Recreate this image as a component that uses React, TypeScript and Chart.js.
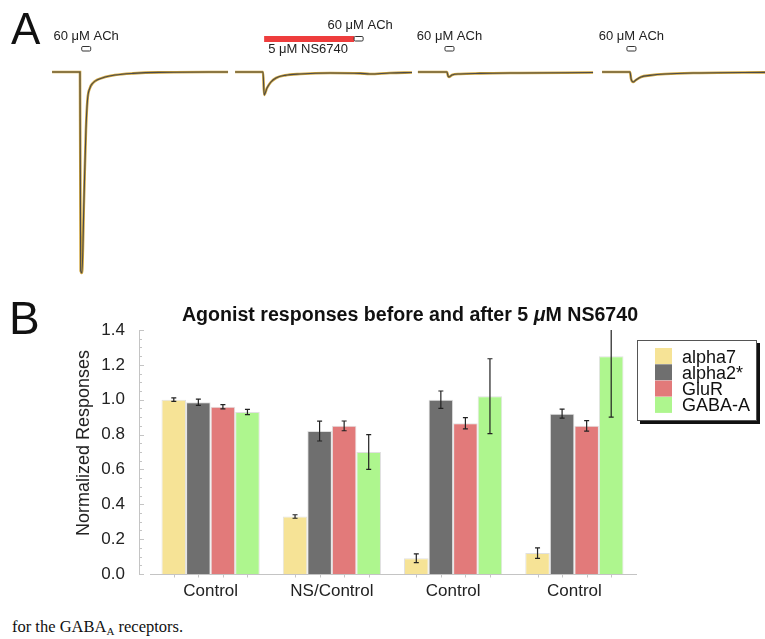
import React, { useEffect, useRef } from "react";
import { Chart, registerables } from "chart.js";

Chart.register(...registerables);

const SANS = "'Liberation Sans', Arial, Helvetica, sans-serif";

// ---------------- Panel A: current traces (normalized current vs. time, s) ----------------
const sweepOnsets = [0, 8.32, 16.68, 25.0];

const sweep1Time = [-1.27, 0, 0.03, 0.09, 0.18, 0.27, 0.34, 0.45, 0.59, 0.77, 1.14, 1.59, 2.41, 3.6, 6.73];
const sweep1Current = [0, 0, -0.99, -1.0, -0.64, -0.29, -0.14, -0.08, -0.055, -0.04, -0.025, -0.015, -0.007, -0.002, 0];

const sweep2Time = [-1.27, 0, 0.05, 0.18, 0.36, 0.59, 1.0, 1.68, 3.05, 4.41, 4.86, 5.77, 6.77];
const sweep2Current = [0, 0, -0.114, -0.08, -0.05, -0.03, -0.017, -0.01, -0.005, -0.007, -0.01, -0.005, -0.003];

const sweep3Time = [-1.32, 0, 0.05, 0.09, 0.23, 0.59, 1.5, 3.32, 6.64];
const sweep3Current = [0, 0, -0.02, -0.025, -0.015, -0.01, -0.007, -0.005, -0.003];

const sweep4Time = [-1.27, 0, 0.05, 0.14, 0.27, 0.5, 0.91, 1.59, 3.18, 6.14];
const sweep4Current = [0, 0, -0.035, -0.05, -0.04, -0.025, -0.017, -0.01, -0.005, -0.002];

const sweepTimes = [sweep1Time, sweep2Time, sweep3Time, sweep4Time];
const sweepCurrents = [sweep1Current, sweep2Current, sweep3Current, sweep4Current];

// ACh pulse start (s, relative to sweep onset) and duration; NS6740 pre-application on sweep 2
const achPulseStart = [0.077, 4.14, -0.09, -0.14];
const achPulseDuration = 0.41;
const nsSweep = 1;
const nsStart = 0.05;
const nsEnd = 4.14;
const achLabel = "60 μM ACh";
const nsLabel = "5 μM NS6740";

// ---------------- Panel B: bar chart ----------------
const categories = ["Control", "NS/Control", "Control", "Control"];
const seriesNames = ["alpha7", "alpha2*", "GluR", "GABA-A"];
const alpha7 = [1.0, 0.33, 0.09, 0.12];
const alpha7Err = [0.01, 0.01, 0.025, 0.03];
const alpha2 = [0.985, 0.82, 1.0, 0.92];
const alpha2Err = [0.018, 0.057, 0.05, 0.026];
const gluR = [0.96, 0.85, 0.865, 0.85];
const gluRErr = [0.012, 0.028, 0.032, 0.03];
const gabaA = [0.93, 0.7, 1.02, 1.25];
const gabaAErr = [0.015, 0.1, 0.215, 0.35];
const seriesColors = ["#f6e396", "#6f6f6f", "#e27a7a", "#aef68e"];
const yMin = 0;
const yMax = 1.4;
const yStep = 0.2;
const yMinorStep = 0.05;

const seriesValues = [alpha7, alpha2, gluR, gabaA];
const seriesErrors = [alpha7Err, alpha2Err, gluRErr, gabaAErr];

const panelAPlugin = {
  id: "panelAAnnotations",
  afterDraw(chart: any) {
    const ctx = chart.ctx;
    const xs = chart.scales.x;
    ctx.save();
    // panel letter
    ctx.fillStyle = "#111";
    ctx.font = `44px ${SANS}`;
    ctx.textBaseline = "alphabetic";
    ctx.textAlign = "left";
    ctx.fillText("A", 11, 44);

    ctx.font = `13px ${SANS}`;
    ctx.textAlign = "center";
    for (let s = 0; s < sweepOnsets.length; s++) {
      const x0 = xs.getPixelForValue(sweepOnsets[s] + achPulseStart[s]);
      const x1 = xs.getPixelForValue(sweepOnsets[s] + achPulseStart[s] + achPulseDuration);
      const isNs = s === nsSweep;
      const rectTop = isNs ? 36.5 : 46.5;
      if (isNs) {
        const n0 = xs.getPixelForValue(sweepOnsets[s] + nsStart);
        const n1 = xs.getPixelForValue(sweepOnsets[s] + nsEnd);
        ctx.fillStyle = "#ee3d3d";
        ctx.fillRect(n0, 36, n1 - n0, 6);
        ctx.fillStyle = "#222";
        ctx.fillText(nsLabel, (n0 + n1) / 2 - 1, 53);
      }
      ctx.fillStyle = "#fff";
      ctx.strokeStyle = "#333";
      ctx.lineWidth = 1;
      ctx.beginPath();
      ctx.roundRect(x0, rectTop, x1 - x0, 4.5, 1.2);
      ctx.fill();
      ctx.stroke();
      ctx.fillStyle = "#222";
      ctx.fillText(achLabel, (x0 + x1) / 2 + (isNs ? 1.5 : 0), isNs ? 29 : 40);
    }
    ctx.restore();
  },
};

const panelBPlugin = {
  id: "panelBExtras",
  afterDatasetsDraw(chart: any) {
    const ctx = chart.ctx;
    const ys = chart.scales.y;
    const area = chart.chartArea;
    ctx.save();
    ctx.beginPath();
    ctx.rect(area.left - 20, area.top, area.right - area.left + 40, area.bottom - area.top);
    ctx.clip();
    ctx.strokeStyle = "#222";
    ctx.lineWidth = 1.2;
    for (let d = 0; d < chart.data.datasets.length; d++) {
      const meta = chart.getDatasetMeta(d);
      meta.data.forEach((bar: any, i: number) => {
        const v = seriesValues[d][i];
        const e = seriesErrors[d][i];
        const yTop = ys.getPixelForValue(v + e);
        const yBot = ys.getPixelForValue(v - e);
        const x = bar.x;
        ctx.beginPath();
        ctx.moveTo(x, yTop);
        ctx.lineTo(x, yBot);
        ctx.moveTo(x - 2.5, yTop);
        ctx.lineTo(x + 2.5, yTop);
        ctx.moveTo(x - 2.5, yBot);
        ctx.lineTo(x + 2.5, yBot);
        ctx.stroke();
      });
    }
    ctx.restore();
  },
  afterDraw(chart: any) {
    const ctx = chart.ctx;
    const ys = chart.scales.y;
    const area = chart.chartArea;
    ctx.save();
    // axes
    const axisX = area.left - 11;
    ctx.strokeStyle = "#c4c4c4";
    ctx.lineWidth = 1;
    ctx.beginPath();
    ctx.moveTo(axisX + 0.5, ys.getPixelForValue(yMax));
    ctx.lineTo(axisX + 0.5, ys.getPixelForValue(yMin));
    ctx.stroke();
    const nMinor = Math.round((yMax - yMin) / yMinorStep);
    const perMajor = Math.round(yStep / yMinorStep);
    for (let k = 0; k <= nMinor; k++) {
      const y = Math.round(ys.getPixelForValue(yMin + k * yMinorStep)) + 0.5;
      const len = k % perMajor === 0 ? 5 : 3;
      ctx.beginPath();
      ctx.moveTo(axisX, y);
      ctx.lineTo(axisX + len, y);
      ctx.stroke();
    }
    const baseY = Math.round(ys.getPixelForValue(yMin)) + 0.5;
    ctx.beginPath();
    ctx.moveTo(area.left, baseY);
    ctx.lineTo(area.right + 2, baseY);
    ctx.stroke();
    for (let d = 0; d < chart.data.datasets.length; d++) {
      chart.getDatasetMeta(d).data.forEach((bar: any) => {
        ctx.beginPath();
        ctx.moveTo(Math.round(bar.x) + 0.5, baseY);
        ctx.lineTo(Math.round(bar.x) + 0.5, baseY + 3);
        ctx.stroke();
      });
    }

    // panel letter
    ctx.fillStyle = "#111";
    ctx.font = `46px ${SANS}`;
    ctx.textAlign = "left";
    ctx.textBaseline = "alphabetic";
    ctx.fillText("B", 9, 49);

    // title with italic mu
    const parts = [
      { t: "Agonist responses before and after 5 ", f: `bold 19.6px ${SANS}` },
      { t: "μ", f: `italic bold 19.6px ${SANS}` },
      { t: "M NS6740", f: `bold 19.6px ${SANS}` },
    ];
    let total = 0;
    for (const p of parts) {
      ctx.font = p.f;
      total += ctx.measureText(p.t).width;
    }
    let tx = 410 - total / 2;
    ctx.fillStyle = "#111";
    for (const p of parts) {
      ctx.font = p.f;
      ctx.fillText(p.t, tx, 36);
      tx += ctx.measureText(p.t).width;
    }

    // y axis title
    ctx.save();
    ctx.translate(84, 158);
    ctx.rotate(-Math.PI / 2);
    ctx.font = `18px ${SANS}`;
    ctx.textAlign = "center";
    ctx.textBaseline = "middle";
    ctx.fillStyle = "#222";
    ctx.fillText("Normalized Responses", 0, 0);
    ctx.restore();

    // legend box
    const lx = 637;
    const ly = 55;
    const lw = 120;
    const lh = 81;
    ctx.fillStyle = "#111";
    ctx.fillRect(lx + 3, ly + 3, lw, lh);
    ctx.fillStyle = "#fff";
    ctx.fillRect(lx, ly, lw, lh);
    ctx.strokeStyle = "#555";
    ctx.lineWidth = 1;
    ctx.strokeRect(lx + 0.5, ly + 0.5, lw - 1, lh - 1);
    ctx.font = `18px ${SANS}`;
    ctx.textAlign = "left";
    ctx.textBaseline = "alphabetic";
    chart.data.datasets.forEach((ds: any, i: number) => {
      const sy = ly + 8 + i * 16.3;
      ctx.fillStyle = ds.backgroundColor;
      ctx.fillRect(655, sy, 17, 16);
      ctx.fillStyle = "#111";
      ctx.fillText(ds.label, 682, sy + 14.5);
    });
    ctx.restore();
  },
};

function PanelA() {
  const ref = useRef<HTMLCanvasElement | null>(null);
  useEffect(() => {
    if (!ref.current) return;
    const datasets: any[] = [];
    for (let s = 0; s < sweepOnsets.length; s++) {
      const pts = sweepTimes[s].map((t, i) => ({ x: sweepOnsets[s] + t, y: sweepCurrents[s][i] }));
      // dark control trace drawn on top (lower order draws last)
      datasets.push({
        data: pts,
        borderColor: "#4a4a4a",
        borderWidth: 1.1,
        pointRadius: 0,
        order: 0,
        cubicInterpolationMode: "monotone",
      });
      datasets.push({
        data: pts.map((p) => ({ x: p.x, y: p.y })),
        borderColor: "#cfa43a",
        borderWidth: 2.6,
        pointRadius: 0,
        order: 1,
        cubicInterpolationMode: "monotone",
      });
    }
    const chart = new Chart(ref.current, {
      type: "line",
      data: { datasets },
      options: {
        responsive: false,
        animation: false,
        devicePixelRatio: 1,
        events: [],
        layout: { padding: 0 },
        plugins: { legend: { display: false }, tooltip: { enabled: false } },
        scales: {
          x: { type: "linear", display: false, min: -3.636, max: 31.136 },
          y: { type: "linear", display: false, min: -1.06, max: 0.358 },
        },
      },
      plugins: [panelAPlugin],
    } as any);
    return () => chart.destroy();
  }, []);
  return (
    <canvas
      ref={ref}
      width={765}
      height={285}
      style={{ position: "absolute", left: 0, top: 0, width: 765, height: 285 }}
    />
  );
}

function PanelB() {
  const ref = useRef<HTMLCanvasElement | null>(null);
  useEffect(() => {
    if (!ref.current) return;
    const chart = new Chart(ref.current, {
      type: "bar",
      data: {
        labels: categories,
        datasets: seriesNames.map((name, i) => ({
          label: name,
          data: seriesValues[i],
          backgroundColor: seriesColors[i],
          borderColor: "rgba(0,0,0,0.12)",
          borderWidth: 1,
          categoryPercentage: 0.81,
          barPercentage: 1.0,
        })),
      },
      options: {
        responsive: false,
        animation: false,
        devicePixelRatio: 1,
        events: [],
        layout: { padding: { left: 60, top: 45, right: 130, bottom: 0 } },
        plugins: { legend: { display: false }, tooltip: { enabled: false } },
        scales: {
          x: {
            type: "category",
            offset: true,
            grid: { display: false, drawTicks: false },
            border: { display: false },
            ticks: { color: "#222", font: { family: SANS, size: 17 }, padding: 7, maxRotation: 0 },
            afterFit: (scale: any) => {
              scale.height = 41;
            },
          },
          y: {
            type: "linear",
            min: yMin,
            max: yMax,
            grid: { display: false, drawTicks: false },
            border: { display: false },
            ticks: {
              stepSize: yStep,
              color: "#222",
              font: { family: SANS, size: 17 },
              padding: 25,
              callback: (v: any) => Number(v).toFixed(1),
            },
            afterFit: (scale: any) => {
              scale.width = 90;
            },
          },
        },
      },
      plugins: [panelBPlugin],
    } as any);
    return () => chart.destroy();
  }, []);
  return (
    <canvas
      ref={ref}
      width={765}
      height={330}
      style={{ position: "absolute", left: 0, top: 285, width: 765, height: 330 }}
    />
  );
}

export default function App() {
  return (
    <div
      style={{
        position: "absolute",
        left: 0,
        top: 0,
        width: 765,
        height: 639,
        overflow: "hidden",
        background: "#fff",
      }}
    >
      <PanelA />
      <PanelB />
      <div
        style={{
          position: "absolute",
          left: 12,
          top: 619,
          fontFamily: "'Liberation Serif', 'Times New Roman', serif",
          fontSize: 16.5,
          lineHeight: "16px",
          color: "#111",
          whiteSpace: "nowrap",
        }}
      >
        for the GABA<sub style={{ fontSize: 11, lineHeight: 0, verticalAlign: "-3px" }}>A</sub> receptors.
      </div>
    </div>
  );
}
